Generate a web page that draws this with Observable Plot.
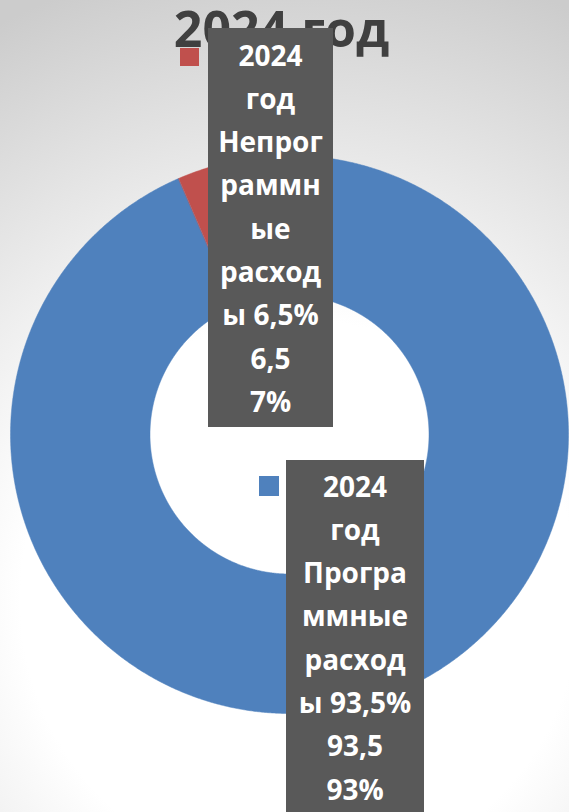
<!DOCTYPE html>
<html><head><meta charset="utf-8">
<script src="https://cdn.jsdelivr.net/npm/d3@7"></script>
<script src="https://cdn.jsdelivr.net/npm/@observablehq/plot@0.6"></script>
<style>
html,body{margin:0;padding:0;}
#wrap{position:relative;width:569px;height:812px;overflow:hidden;background:radial-gradient(circle 650px at 300px 600px,#ffffff 43%,#cccccc 100%);font-family:"Open Sans",sans-serif;}
#wrap svg{position:absolute;left:0;top:0;background:transparent;}
.title{position:absolute;left:-3px;top:3px;width:569px;text-align:center;font-size:50px;line-height:50px;font-weight:700;color:#404040;white-space:nowrap;}
.box{position:absolute;background:#595959;color:#fff;font-weight:700;font-size:28px;line-height:43.3px;text-align:center;white-space:nowrap;}
.key{position:absolute;}
</style>
</head><body>
<div id="wrap"></div>
<script>
const year = "2024 год";
const categories = ["Программные расходы", "Непрограммные расходы"];
const shares = [93.5, 6.5];
const valueLabels = ["93,5", "6,5"];
const percentLabels = ["93%", "7%"];
const colors = ["#4F81BD", "#C0504D"];
const labelLines = [
  ["2024", "год", "Програ", "ммные", "расход", "ы 93,5%", "93,5", "93%"],
  ["2024", "год", "Непрог", "раммн", "ые", "расход", "ы 6,5%", "6,5", "7%"]
];
const innerRatio = 0.5;

// build ring wedges from cumulative shares
const total = d3.sum(shares);
let acc = 0;
const pts = [];
shares.forEach((v, i) => {
  const a0 = acc / total * 2 * Math.PI, a1 = (acc + v) / total * 2 * Math.PI;
  acc += v;
  const n = Math.max(4, Math.ceil((a1 - a0) / 0.005));
  const angs = d3.range(n + 1).map(k => a0 + (a1 - a0) * k / n);
  angs.forEach(a => pts.push({cat: categories[i], x: Math.sin(a), y: -Math.cos(a)}));
  angs.slice().reverse().forEach(a => pts.push({cat: categories[i], x: Math.sin(a) * innerRatio, y: -Math.cos(a) * innerRatio}));
});

const chart = Plot.plot({
  width: 569, height: 812, margin: 0,
  x: {domain: [-1, 1], range: [10, 568], axis: null},
  y: {domain: [-1, 1], range: [155, 713], axis: null},
  color: {domain: categories, range: colors},
  style: {background: "transparent"},
  marks: [
    Plot.line(pts, {x: "x", y: "y", z: "cat", fill: "cat", stroke: "cat", strokeWidth: 0.5, curve: "linear-closed"})
  ]
});
const wrap = document.getElementById("wrap");
wrap.appendChild(chart);

const t = document.createElement("div");
t.className = "title";
t.textContent = year;
wrap.appendChild(t);

// label boxes (Excel-style data labels with legend keys)
const boxLayout = [
  {left: 286, top: 460, width: 138, padTop: 4.5, padBottom: 20, keyLeft: 259, keyTop: 476, keyW: 20, keyH: 20},
  {left: 208, top: 28, width: 125, padTop: 5.5, padBottom: 4, keyLeft: 180, keyTop: 48, keyW: 19, keyH: 18}
];
boxLayout.forEach((L, i) => {
  const k = document.createElement("div");
  k.className = "key";
  Object.assign(k.style, {left: L.keyLeft + "px", top: L.keyTop + "px", width: L.keyW + "px", height: L.keyH + "px", background: colors[i]});
  wrap.appendChild(k);
  const b = document.createElement("div");
  b.className = "box";
  Object.assign(b.style, {left: L.left + "px", top: L.top + "px", width: L.width + "px", paddingTop: L.padTop + "px", paddingBottom: L.padBottom + "px"});
  b.innerHTML = labelLines[i].map(s => `<div>${s}</div>`).join("");
  wrap.appendChild(b);
});
</script>
</body></html>
